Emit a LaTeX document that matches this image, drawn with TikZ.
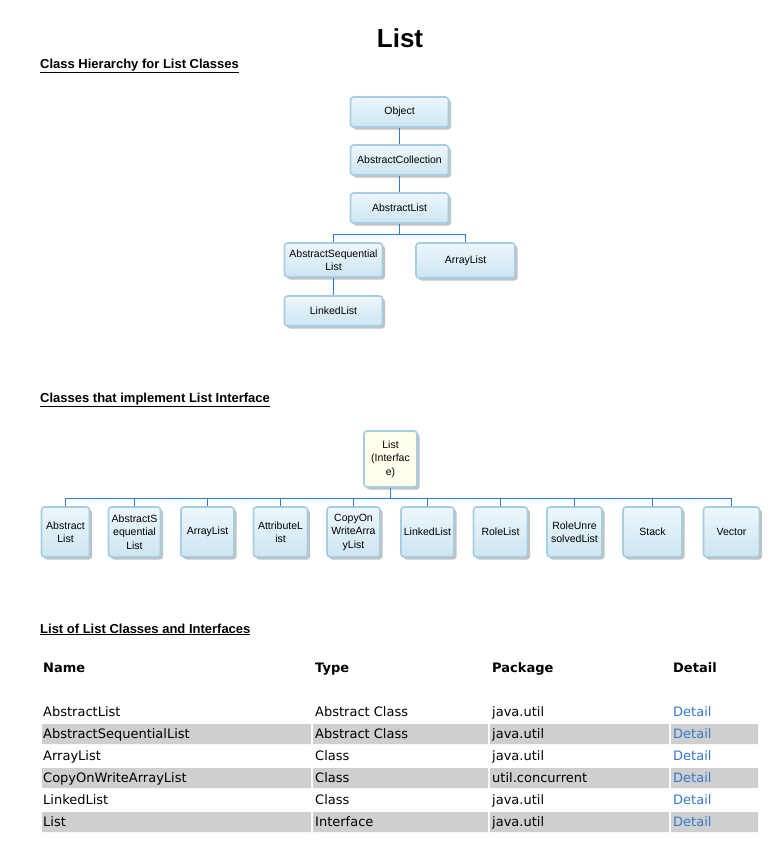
\documentclass[tikz,border=0pt]{standalone}
\usepackage{fontspec}
\setmainfont{Liberation Sans}
\newfontfamily\tablefont{DejaVu Sans}
\usepackage{tikz}
\usetikzlibrary{shadows}
\definecolor{boxline}{RGB}{166,205,226}
\definecolor{boxtop}{RGB}{238,247,252}
\definecolor{boxbottom}{RGB}{204,229,241}
\definecolor{ifacefill}{RGB}{255,255,236}
\definecolor{linkline}{RGB}{45,125,215}
\definecolor{rowgray}{RGB}{208,207,207}
\definecolor{detailblue}{RGB}{52,120,204}

\begin{document}
\begin{tikzpicture}[x=1pt, y=-1pt,
        class_style/.style={rectangle, rounded corners=3pt, draw=boxline, line width=1.6pt, top color=boxtop, bottom color=boxbottom, drop shadow={shadow xshift=2.5pt, shadow yshift=-2.5pt, fill=black!60, opacity=0.4}, font=\fontsize{10.5}{13.5}\selectfont, align=center, inner sep=1pt, minimum width=98pt, minimum height=30pt},
        iface_style/.style={class_style, top color=ifacefill, bottom color=ifacefill, minimum width=53pt, minimum height=56pt},
        leaf_style/.style={class_style, minimum height=50pt},
        edge_style/.style={draw=linkline, line width=1.4pt},
        title_style/.style={anchor=base, font=\fontsize{26}{30}\selectfont\bfseries},
        heading_style/.style={anchor=base west, inner sep=0pt, font=\fontsize{13}{15}\selectfont\bfseries},
        head_cell_style/.style={anchor=base west, inner sep=0pt, font=\tablefont\fontsize{13}{15}\selectfont\bfseries},
        cell_style/.style={anchor=base west, inner sep=0pt, font=\tablefont\fontsize{13}{15}\selectfont},
        detail_style/.style={cell_style, text=detailblue},
        row_fill/.style={fill=rowgray}]

        \useasboundingbox (0,0) rectangle (778,849);
        \fill [white] (0,0) rectangle (778,849);

        \node [title_style](title) at (400,47) {List};

        \node [heading_style](head1) at (40,68.5) {\underline{Class Hierarchy for List Classes}};

        \node [heading_style](head2) at (40,402) {\underline{Classes that implement List Interface}};

        \node [heading_style](head3) at (40,633) {\underline{List of List Classes and Interfaces}};

        \node [class_style](h1) at (399.5,112) {Object};

        \node [class_style](h2) at (399.5,160) {AbstractCollection};

        \node [class_style](h3) at (399.5,208) {AbstractList};

        \node [class_style,minimum height=34pt](h4) at (333.5,260) {AbstractSequential\\List};

        \node [class_style,minimum width=99pt,minimum height=35pt](h5) at (465.5,260.5) {ArrayList};

        \node [class_style](h6) at (333.5,311) {LinkedList};

        \draw [edge_style] (h1.south) -- (h2.north);

        \draw [edge_style] (h2.south) -- (h3.north);

        \draw [edge_style] (h3.south) -- ++(0,10.5) -| (h4.north);

        \draw [edge_style] (h3.south) -- ++(0,10.5) -| (h5.north);

        \draw [edge_style] (h4.south) -- (h6.north);

        \node [iface_style](i0) at (390.5,459) {List\\(Interfac\\e)};

        \node [leaf_style,minimum width=48pt](i1) at (65.5,532) {Abstract\\List};

        \node [leaf_style,minimum width=52pt](i2) at (134.5,532) {AbstractS\\equential\\List};

        \node [leaf_style,minimum width=53pt](i3) at (207.5,532) {ArrayList};

        \node [leaf_style,minimum width=54pt](i4) at (280.5,532) {AttributeL\\ist};

        \node [leaf_style,minimum width=53pt](i5) at (353.5,532) {CopyOn\\WriteArra\\yList};

        \node [leaf_style,minimum width=53pt](i6) at (427.5,532) {LinkedList};

        \node [leaf_style,minimum width=54pt](i7) at (500.5,532) {RoleList};

        \node [leaf_style,minimum width=55pt](i8) at (574.5,532) {RoleUnre\\solvedList};

        \node [leaf_style,minimum width=59pt](i9) at (652.5,532) {Stack};

        \node [leaf_style,minimum width=56pt](i10) at (731.5,532) {Vector};

        \draw [edge_style] (i0.south) -- ++(0,10.5) -| (i1.north);

        \draw [edge_style] (i0.south) -- ++(0,10.5) -| (i2.north);

        \draw [edge_style] (i0.south) -- ++(0,10.5) -| (i3.north);

        \draw [edge_style] (i0.south) -- ++(0,10.5) -| (i4.north);

        \draw [edge_style] (i0.south) -- ++(0,10.5) -| (i5.north);

        \draw [edge_style] (i0.south) -- ++(0,10.5) -| (i6.north);

        \draw [edge_style] (i0.south) -- ++(0,10.5) -| (i7.north);

        \draw [edge_style] (i0.south) -- ++(0,10.5) -| (i8.north);

        \draw [edge_style] (i0.south) -- ++(0,10.5) -| (i9.north);

        \draw [edge_style] (i0.south) -- ++(0,10.5) -| (i10.north);

        \fill [row_fill] (42,724) rectangle (311,744) (313,724) rectangle (488,744) (490,724) rectangle (669,744) (671,724) rectangle (758,744);

        \fill [row_fill] (42,768) rectangle (311,788) (313,768) rectangle (488,788) (490,768) rectangle (669,788) (671,768) rectangle (758,788);

        \fill [row_fill] (42,812) rectangle (311,832) (313,812) rectangle (488,832) (490,812) rectangle (669,832) (671,812) rectangle (758,832);

        \node [head_cell_style](c_name) at (43,672.5) {Name};

        \node [head_cell_style](c_type) at (315,672.5) {Type};

        \node [head_cell_style](c_pkg) at (492,672.5) {Package};

        \node [head_cell_style](c_detail) at (673,672.5) {Detail};

        \node [cell_style](r1_name) at (43,716.5) {AbstractList};
        \node [cell_style](r1_type) at (315,716.5) {Abstract Class};
        \node [cell_style](r1_pkg) at (492,716.5) {java.util};
        \node [detail_style](r1_detail) at (673,716.5) {Detail};

        \node [cell_style](r2_name) at (43,738.5) {AbstractSequentialList};
        \node [cell_style](r2_type) at (315,738.5) {Abstract Class};
        \node [cell_style](r2_pkg) at (492,738.5) {java.util};
        \node [detail_style](r2_detail) at (673,738.5) {Detail};

        \node [cell_style](r3_name) at (43,760.5) {ArrayList};
        \node [cell_style](r3_type) at (315,760.5) {Class};
        \node [cell_style](r3_pkg) at (492,760.5) {java.util};
        \node [detail_style](r3_detail) at (673,760.5) {Detail};

        \node [cell_style](r4_name) at (43,782.5) {CopyOnWriteArrayList};
        \node [cell_style](r4_type) at (315,782.5) {Class};
        \node [cell_style](r4_pkg) at (492,782.5) {util.concurrent};
        \node [detail_style](r4_detail) at (673,782.5) {Detail};

        \node [cell_style](r5_name) at (43,804.5) {LinkedList};
        \node [cell_style](r5_type) at (315,804.5) {Class};
        \node [cell_style](r5_pkg) at (492,804.5) {java.util};
        \node [detail_style](r5_detail) at (673,804.5) {Detail};

        \node [cell_style](r6_name) at (43,826.5) {List};
        \node [cell_style](r6_type) at (315,826.5) {Interface};
        \node [cell_style](r6_pkg) at (492,826.5) {java.util};
        \node [detail_style](r6_detail) at (673,826.5) {Detail};

        \end{tikzpicture}
\end{document}
